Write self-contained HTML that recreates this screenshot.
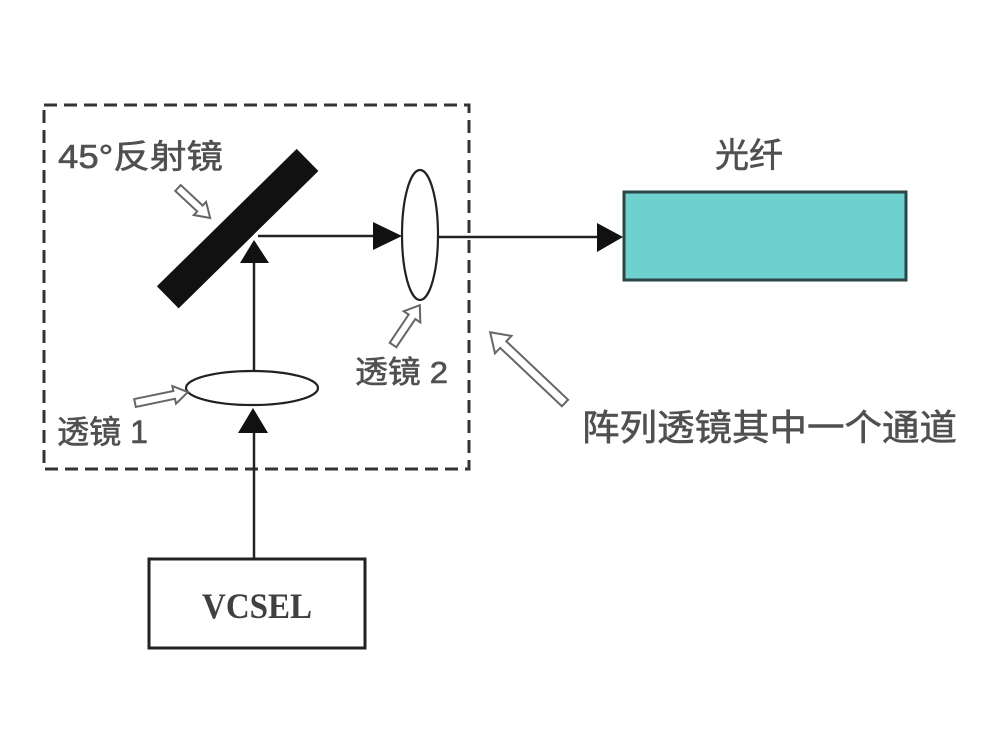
<!DOCTYPE html>
<html><head><meta charset="utf-8"><style>
html,body{margin:0;padding:0;background:#fff;}
svg{display:block;}
text{font-family:"Liberation Sans","Noto Sans CJK SC",sans-serif;fill:#505050;stroke:#505050;stroke-width:0.6;}
</style></head><body>
<svg width="1000" height="750" viewBox="0 0 1000 750" xmlns="http://www.w3.org/2000/svg">
<rect width="1000" height="750" fill="#fff"/>
<!-- dashed box -->
<rect x="44" y="105" width="425" height="364" fill="none" stroke="#333" stroke-width="3" stroke-dasharray="13,7"/>
<!-- mirror -->
<rect x="140" y="213" width="196" height="31" fill="#111" transform="rotate(-44.5 238 229)"/>
<!-- vertical lines -->
<line x1="254" y1="250" x2="254" y2="371" stroke="#222" stroke-width="2.5"/>
<line x1="254" y1="420" x2="254" y2="558" stroke="#222" stroke-width="2.5"/>
<polygon points="254,240 240,263 269,263" fill="#111"/>
<polygon points="253,408 238,433 268,433" fill="#111"/>
<!-- horizontal lines -->
<line x1="258" y1="236" x2="380" y2="236" stroke="#222" stroke-width="2.5"/>
<polygon points="402,236 373,222 373,250" fill="#111"/>
<line x1="438" y1="237" x2="600" y2="237" stroke="#222" stroke-width="2.5"/>
<polygon points="623,237 597,223 597,252" fill="#111"/>
<!-- lenses -->
<ellipse cx="252" cy="388" rx="66" ry="17" fill="#fff" stroke="#222" stroke-width="2.2"/>
<ellipse cx="420" cy="235" rx="18" ry="65" fill="#fff" stroke="#222" stroke-width="2.2"/>
<!-- fiber -->
<rect x="624" y="192" width="282" height="88" fill="#6fd0d0" stroke="#2a4545" stroke-width="3"/>
<!-- VCSEL box -->
<rect x="149" y="559" width="216" height="89" fill="#fff" stroke="#222" stroke-width="3"/>
<text x="257" y="618" font-size="36" font-weight="bold" text-anchor="middle" textLength="110" lengthAdjust="spacingAndGlyphs" style="font-family:'Liberation Serif',serif;fill:#404040;stroke:none">VCSEL</text>
<!-- hollow arrows -->
<g fill="#fff" stroke="#666" stroke-width="2" stroke-linejoin="miter">
  <polygon transform="translate(178,188) rotate(43)" points="0,-4 30,-4 30,-9 44,0 30,9 30,4 0,4"/>
  <polygon transform="translate(135,403) rotate(-11.7)" points="0,-4 40,-4 40,-9 54,0 40,9 40,4 0,4"/>
  <polygon transform="translate(393,345) rotate(-56)" points="0,-4 34,-4 34,-10 48,0 34,10 34,4 0,4"/>
  <polygon transform="translate(565,403) rotate(223.4)" points="0,-4.5 85,-4.5 85,-12 103,0 85,12 85,4.5 0,4.5"/>
</g>
<!-- labels -->
<text x="58" y="168" font-size="33" textLength="165" lengthAdjust="spacingAndGlyphs">45°反射镜</text>
<text x="57" y="443" font-size="32" textLength="91" lengthAdjust="spacingAndGlyphs">透镜 1</text>
<text x="355" y="383" font-size="31" textLength="93" lengthAdjust="spacingAndGlyphs">透镜 2</text>
<text x="715" y="167" font-size="34" textLength="68" lengthAdjust="spacingAndGlyphs">光纤</text>
<text x="582" y="440" font-size="36" textLength="375" lengthAdjust="spacingAndGlyphs">阵列透镜其中一个通道</text>
</svg>
</body></html>
